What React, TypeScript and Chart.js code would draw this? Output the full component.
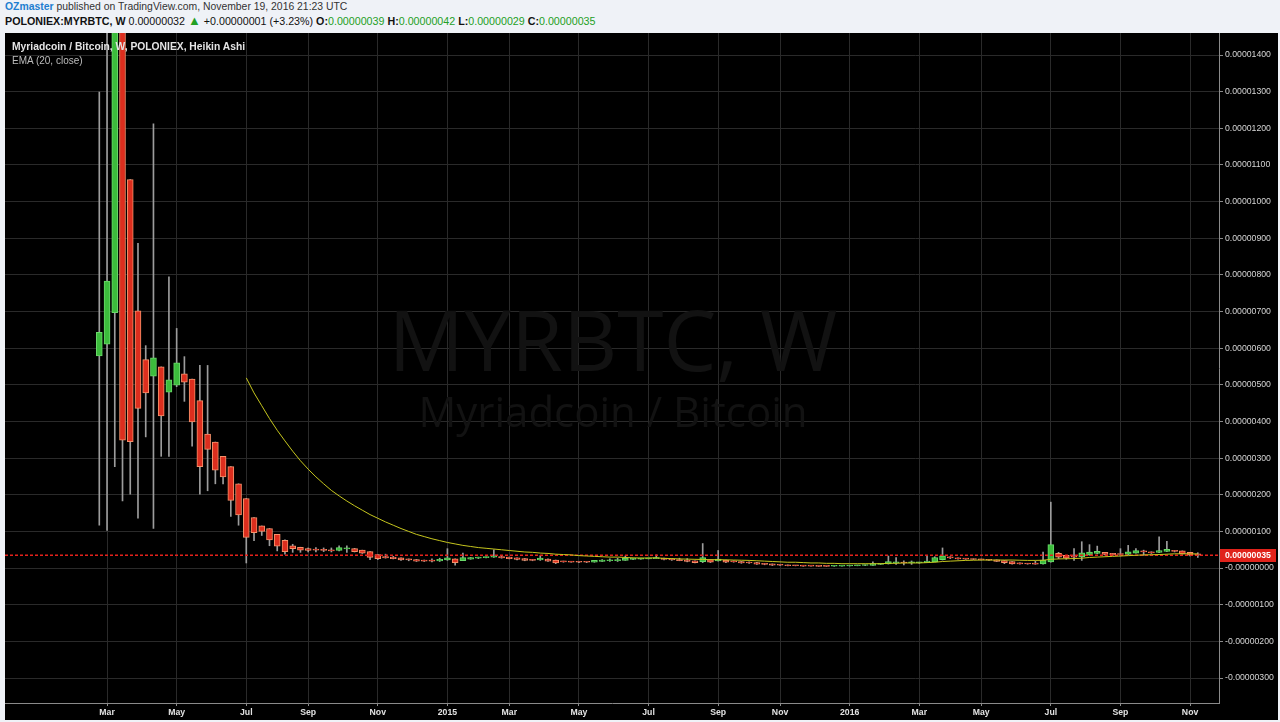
import React, { useEffect, useRef } from "react";
import { Chart, registerables } from "chart.js";

Chart.register(...registerables);

// Weekly Heikin Ashi candles of POLONIEX:MYRBTC, values in satoshi (1e-8 BTC).
// Bar 0 = week of 24 Feb 2014, last bar (142) = week of 14 Nov 2016.
const haOpen = [
  579, 611, 697, 1770, 1060, 702, 569, 524, 549, 480,
  499, 530, 516, 457, 366, 344, 305, 277, 230, 190,
  138, 115, 108, 92, 76, 60.5, 57, 53, 50.5, 49.8,
  49, 48, 52, 53.5, 49, 45, 37, 31.5, 30, 28,
  25, 23.5, 21, 20, 19.5, 22, 25, 20, 24.5, 27,
  28.5, 30, 31.5, 30, 28, 26, 23.5, 22, 24.5, 22,
  18, 17.5, 17, 16.5, 16, 18.5, 20, 20.5, 21, 24,
  24.5, 25, 26, 27, 25, 23.5, 22, 20, 17.5, 23,
  19.5, 22, 19, 18, 16, 15, 13, 11.5, 9.7, 8.7,
  7.6, 7, 6.3, 5.8, 5.3, 5, 5.4, 5.8, 6.4, 7,
  7.6, 10, 11.3, 14.6, 14.8, 14.3, 14.7, 15, 17.2, 23,
  28.3, 28, 26.5, 25.5, 24.5, 23.5, 22.5, 20.5, 17.5, 14.5,
  12.8, 12, 11.5, 16.6, 40.3, 35, 31, 30.5, 36, 40,
  43, 40, 38, 37.5, 41, 44.6, 44.5, 43, 45.5, 48.5,
  47, 43, 39,
];
const haHigh = [
  1299, 1650, 2900, 1800, 1060, 886, 607, 1212, 549, 795,
  654, 577, 516, 553, 553, 344, 305, 277, 230, 190,
  138, 115, 108, 92, 77, 65, 57, 55, 56, 55,
  55, 61, 61, 54, 49, 45, 37, 38, 32, 28,
  25, 23.5, 22, 25, 27, 53, 25, 41, 29, 30,
  31, 50, 32, 30, 28, 26, 24, 34, 25, 22,
  19, 18, 18, 17, 21, 23, 25, 27, 33, 26,
  27, 27, 36, 27, 25, 27, 26, 20, 67, 23,
  48, 22, 20, 18, 17, 16, 13, 11.5, 9.7, 8.7,
  7.6, 7, 6.3, 5.8, 5.3, 6.5, 6.5, 7.5, 8, 9,
  17, 13, 33, 29, 19.5, 19.5, 16, 35, 31, 55,
  31, 28, 26.5, 25.5, 24.5, 23.5, 22.5, 20.5, 17.5, 14.5,
  12.8, 19, 44, 180, 43, 35, 53, 72, 64, 60,
  43, 40, 53, 62, 53, 49, 44.5, 85, 73, 48.5,
  47, 43, 42,
];
const haLow = [
  117, 103, 277, 183, 202, 136, 358, 108, 305, 305,
  495, 455, 333, 202, 211, 230, 230, 141, 117, 14,
  75, 89, 61, 47, 38, 43, 43, 44, 44, 45,
  44, 47, 43, 44, 40, 23, 23, 27, 25, 21,
  20, 18, 18, 17, 18, 21, 8, 20, 24, 26,
  28, 29, 27, 25, 22, 20, 20, 21, 18, 12,
  16, 16, 15, 15, 16, 18, 18, 18, 21, 23,
  24, 25, 26, 22, 21, 20, 17, 14, 15, 15,
  19, 15, 16, 13, 13, 10, 9, 7, 7, 6,
  6, 5, 5, 4.5, 4.5, 4.8, 5.2, 5.6, 6.2, 6.8,
  7.4, 9.6, 11, 10, 8.6, 10, 13, 14.5, 17, 22,
  26, 24.5, 24, 23, 22, 21, 18, 12, 11, 10.5,
  10.5, 10.5, 11, 16, 26, 24, 21, 21, 35, 39,
  36, 35, 33, 37, 41, 35, 40, 42, 45, 44,
  38, 33, 29,
];
const haClose = [
  643, 783, 2840, 349, 345, 436, 478, 574, 415, 514,
  560, 507, 399, 277, 324, 267, 249, 185, 145, 84,
  97, 100, 77, 60, 45, 53, 49, 48, 49, 48.5,
  47, 56, 55, 45, 41, 29, 26, 28, 26, 22,
  22, 19, 19, 19, 24, 28, 15, 29, 29, 30,
  31, 33, 28, 26, 24, 21, 21, 27, 19, 14,
  17, 16.5, 16, 16, 21, 22, 21, 22, 27, 25,
  26, 27, 28, 23.5, 22, 20.5, 18, 15, 28.5, 16,
  24.5, 16, 17, 14, 14, 11, 10, 7.9, 7.7, 6.5,
  6.4, 5.6, 5.3, 4.8, 4.7, 5.8, 6.2, 7, 7.6, 8.2,
  12.4, 12.6, 17.9, 15, 13.8, 15.1, 15.3, 19.4, 28.8, 33.6,
  27.7, 25, 24.5, 23.5, 22.5, 21.5, 18.5, 14.5, 11.5, 11.1,
  11.2, 11, 21.7, 64, 29.7, 27, 30, 41.5, 44, 46,
  37, 36, 37, 44.5, 48, 44.4, 41.5, 48, 51.5, 45.5,
  39, 35, 35,
];

// EMA (20, close), starting at bar 19
const EMA_FIRST_BAR = 19;
const ema20 = [
  519, 478, 443, 408, 376, 347, 319, 293, 270, 249,
  230, 212, 197, 183, 170, 158, 146, 136, 126, 117,
  108, 100, 92, 86, 80, 75, 70, 66, 62, 59,
  56, 54, 52, 50, 48, 46, 44, 43, 41, 40,
  38, 37, 36, 34, 33, 32, 31, 30, 30, 29,
  28, 27.5, 27.5, 28, 26.5, 26, 25, 24.5, 24, 23.5,
  23, 23, 22.5, 22, 21.5, 21, 20, 19, 18, 17,
  16, 16, 15, 14, 14, 13, 13, 12, 12, 12,
  12, 12, 12, 13, 13, 14, 14, 14, 15, 16,
  18, 19, 20, 21, 21.5, 22, 22, 22, 22, 22,
  21.5, 21, 21, 21.5, 24, 25, 25.5, 26, 27, 29,
  30, 31, 32, 33, 34, 35, 36, 36.5, 37, 38,
  39, 39, 39, 38.5,
];

const monthTickBars = [1, 10, 19, 27, 36, 45, 53, 62, 71, 80, 88, 97, 106, 114, 123, 132, 141];
const monthTickLabels = ["Mar", "May", "Jul", "Sep", "Nov", "2015", "Mar", "May", "Jul", "Sep", "Nov", "2016", "Mar", "May", "Jul", "Sep", "Nov"];

const priceTickValues = [-300, -200, -100, 0, 100, 200, 300, 400, 500, 600, 700, 800, 900, 1000, 1100, 1200, 1300, 1400];
const priceTickLabels = [
  "-0.00000300", "-0.00000200", "-0.00000100", "-0.00000000", "0.00000100", "0.00000200",
  "0.00000300", "0.00000400", "0.00000500", "0.00000600", "0.00000700", "0.00000800",
  "0.00000900", "0.00001000", "0.00001100", "0.00001200", "0.00001300", "0.00001400",
];

const LAST_CLOSE = 35;
const LAST_CLOSE_LABEL = "0.00000035";

const X_MIN = -12.19;
const X_MAX = 144.74;
const Y_MIN = -368.1;
const Y_MAX = 1460.1;

const UP_FILL = "#3cbc3c";
const UP_EDGE = "#6ad86a";
const DOWN_FILL = "#dc2e1e";
const DOWN_EDGE = "#f5916a";
const AXIS = "#8a8a8a";
const GRID = "#2a2a2a";
const FONT = '"Liberation Sans", Arial, sans-serif';

export default function App() {
  const ref = useRef<HTMLCanvasElement | null>(null);

  useEffect(() => {
    const canvas = ref.current;
    if (!canvas) return;
    const idx = haOpen.map((_, i) => i);
    const isUp = idx.map((i) => haClose[i] >= haOpen[i]);
    const wicks = idx.map((i) => ({ x: i, y: [haLow[i], haHigh[i]] }));
    const bodies = idx.map((i) => ({ x: i, y: [haOpen[i], haClose[i]] }));
    const emaPts = ema20.map((v, k) => ({ x: EMA_FIRST_BAR + k, y: v }));
    const pricePts = [
      { x: X_MIN, y: LAST_CLOSE },
      { x: X_MAX, y: LAST_CLOSE },
    ];

    const watermark = {
      id: "watermark",
      beforeDatasetsDraw(chart: any) {
        const { ctx, chartArea } = chart;
        const cx = (chartArea.left + chartArea.right) / 2;
        ctx.save();
        ctx.fillStyle = "#121212";
        ctx.textAlign = "center";
        ctx.textBaseline = "alphabetic";
        ctx.font = '400 84px "Open Sans", sans-serif';
        ctx.fillText("MYRBTC, W", cx + 1, 338);
        ctx.font = '400 42px "Open Sans", sans-serif';
        ctx.fillText("Myriadcoin / Bitcoin", cx + 1, 394);
        ctx.restore();
      },
    };

    const priceTag = {
      id: "priceTag",
      afterDraw(chart: any) {
        const { ctx } = chart;
        const ys = chart.scales.y;
        const y = ys.getPixelForValue(LAST_CLOSE);
        ctx.save();
        ctx.fillStyle = "#e0231b";
        ctx.fillRect(ys.left + 1, Math.round(y) - 6, 56, 13);
        ctx.fillStyle = "#ffffff";
        ctx.font = "bold 8.7px " + FONT;
        ctx.textAlign = "left";
        ctx.textBaseline = "middle";
        ctx.fillText(LAST_CLOSE_LABEL, ys.left + 6, Math.round(y) + 0.5);
        ctx.restore();
      },
    };

    const chart = new Chart(canvas, {
      type: "bar",
      data: {
        datasets: [
          {
            type: "line",
            label: "EMA (20, close)",
            data: emaPts,
            borderColor: "#c6c61e",
            borderWidth: 1,
            pointRadius: 0,
            tension: 0,
            order: 1,
          } as any,
          {
            type: "line",
            label: "last",
            data: pricePts,
            borderColor: "#e5221c",
            borderWidth: 1.6,
            borderDash: [3, 2],
            pointRadius: 0,
            order: 2,
          } as any,
          {
            type: "bar",
            label: "body",
            data: bodies,
            backgroundColor: isUp.map((u) => (u ? UP_FILL : DOWN_FILL)),
            borderColor: isUp.map((u) => (u ? UP_EDGE : DOWN_EDGE)),
            borderWidth: 1,
            borderSkipped: false,
            barThickness: 6,
            grouped: false,
            minBarLength: 1,
            order: 3,
          } as any,
          {
            type: "bar",
            label: "wick",
            data: wicks,
            backgroundColor: "#9c9c9c",
            borderWidth: 0,
            barThickness: 1,
            grouped: false,
            order: 4,
          } as any,
        ],
      },
      options: {
        responsive: false,
        maintainAspectRatio: false,
        animation: false,
        events: [],
        layout: { padding: 0 },
        plugins: { legend: { display: false }, tooltip: { enabled: false } },
        scales: {
          x: {
            type: "linear",
            min: X_MIN,
            max: X_MAX,
            offset: false,
            afterBuildTicks: (s: any) => {
              s.ticks = monthTickBars.map((v) => ({ value: v }));
            },
            afterFit: (s: any) => {
              s.height = 17;
              s.paddingLeft = 0;
              s.paddingRight = 0;
            },
            ticks: {
              autoSkip: false,
              maxRotation: 0,
              padding: 1,
              color: "#e2e2e2",
              font: { family: FONT, size: 8.7, weight: "bold" },
              callback: (v: any) => {
                const k = monthTickBars.indexOf(Number(v));
                return k >= 0 ? monthTickLabels[k] : "";
              },
            },
            grid: { color: GRID, tickColor: AXIS, tickLength: 3, offset: false },
            border: { color: AXIS },
          },
          y: {
            type: "linear",
            position: "right",
            min: Y_MIN,
            max: Y_MAX,
            afterBuildTicks: (s: any) => {
              s.ticks = priceTickValues.map((v) => ({ value: v }));
            },
            afterFit: (s: any) => {
              s.width = 59;
              s.paddingTop = 0;
              s.paddingBottom = 0;
            },
            ticks: {
              autoSkip: false,
              padding: 2,
              color: "#d6d6d6",
              font: { family: FONT, size: 8.7 },
              callback: (v: any) => {
                const k = priceTickValues.indexOf(Number(v));
                return k >= 0 ? priceTickLabels[k] : "";
              },
            },
            grid: { color: GRID, tickColor: AXIS, tickLength: 4 },
            border: { color: AXIS },
          },
        },
      } as any,
      plugins: [watermark, priceTag],
    });
    return () => chart.destroy();
  }, []);

  const green = { color: "#23a024" };
  const bold = { fontWeight: 700 as const };

  return (
    <div
      style={{
        position: "fixed",
        left: 0,
        top: 0,
        width: 1280,
        height: 722,
        background: "#eff2f7",
        fontFamily: FONT,
        overflow: "hidden",
      }}
    >
      <div style={{ position: "absolute", left: 5, top: 0, fontSize: 10.4, lineHeight: "14px", color: "#333", whiteSpace: "nowrap" }}>
        <span style={{ color: "#1f7fd0", fontWeight: 700 }}>OZmaster</span> published on TradingView.com, November 19, 2016 21:23 UTC
      </div>
      <div style={{ position: "absolute", left: 5, top: 14, fontSize: 10.7, lineHeight: "14px", color: "#111", whiteSpace: "nowrap" }}>
        <span style={bold}>POLONIEX:MYRBTC, W</span> 0.00000032 <span style={{ ...green, fontSize: 13 }}>▲</span> +0.00000001 (+3.23%){" "}
        <span style={bold}>O:</span><span style={green}>0.00000039</span>{" "}
        <span style={bold}>H:</span><span style={green}>0.00000042</span>{" "}
        <span style={bold}>L:</span><span style={green}>0.00000029</span>{" "}
        <span style={bold}>C:</span><span style={green}>0.00000035</span>
      </div>
      <div style={{ position: "absolute", left: 5, top: 33, width: 1273, height: 687, background: "#000" }}>
        <canvas ref={ref} width={1273} height={687} style={{ position: "absolute", left: 0, top: 0, width: 1273, height: 687 }} />
        <div style={{ position: "absolute", left: 7, top: 7, fontSize: 10.3, fontWeight: 700, lineHeight: "14px", color: "#e4e4e4", whiteSpace: "nowrap" }}>
          Myriadcoin / Bitcoin, W, POLONIEX, Heikin Ashi
        </div>
        <div style={{ position: "absolute", left: 7, top: 21, fontSize: 10, lineHeight: "14px", color: "#bdbdbd", whiteSpace: "nowrap" }}>
          EMA (20, close)
        </div>
      </div>
    </div>
  );
}
